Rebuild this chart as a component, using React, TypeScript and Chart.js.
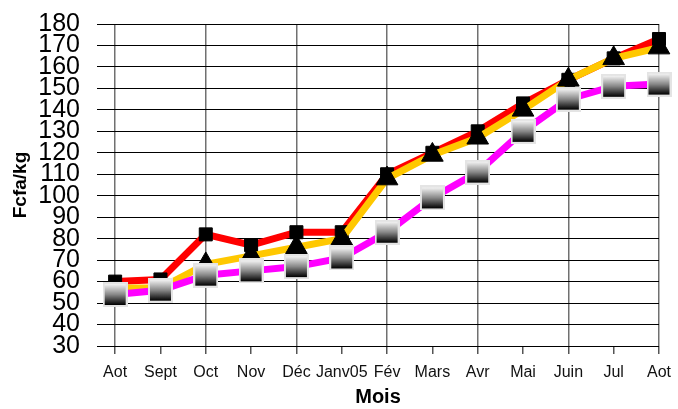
import React, { useEffect, useRef } from "react";
import { Chart, registerables } from "chart.js";

Chart.register(...registerables);

const monthLabels = ["Aot", "Sept", "Oct", "Nov", "Déc", "Janv05", "Fév", "Mars", "Avr", "Mai", "Juin", "Jul", "Aot"];
const redValues = [60, 61, 82, 77, 83, 83, 110, 120, 130, 143, 154, 164, 173];
const yellowValues = [57, 57, 68, 72, 76, 80, 108, 119, 127, 140, 154, 164, 169];
const magentaValues = [54, 56, 63, 65, 67, 71, 83, 99, 111, 130, 145, 151, 152];
const yTicks = [30, 40, 50, 60, 70, 80, 90, 100, 110, 120, 130, 140, 150, 160, 170, 180];

const FONT = "'Liberation Sans', Arial, sans-serif";

function makeGradSquare(): HTMLCanvasElement {
  const c = document.createElement("canvas");
  c.width = 25;
  c.height = 25;
  const g = c.getContext("2d")!;
  g.fillStyle = "#e4e4e4";
  g.fillRect(0, 0, 25, 25);
  const grad = g.createLinearGradient(0, 2, 0, 23);
  grad.addColorStop(0, "#f4f4f4");
  grad.addColorStop(0.5, "#888888");
  grad.addColorStop(1, "#000000");
  g.fillStyle = grad;
  g.fillRect(2, 2, 21, 21);
  return c;
}

export default function App() {
  const ref = useRef<HTMLCanvasElement>(null);
  useEffect(() => {
    const toXY = (arr: number[]) => arr.map((v, i) => ({ x: i, y: v }));
    const grad = makeGradSquare();
    const chart = new Chart(ref.current!, {
      type: "line",
      data: {
        datasets: [
          {
            data: toXY(magentaValues),
            borderColor: "#ff00ff",
            borderWidth: 7,
            pointStyle: grad as any,
            pointRadius: 12,
            tension: 0,
            clip: false as any,
          },
          {
            data: toXY(yellowValues),
            borderColor: "#ffc800",
            borderWidth: 7,
            pointStyle: "triangle",
            pointRadius: 12.5,
            pointBackgroundColor: "#000",
            pointBorderColor: "#000",
            pointBorderWidth: 1,
            tension: 0,
            clip: false as any,
          },
          {
            data: toXY(redValues),
            borderColor: "#ff0000",
            borderWidth: 7,
            pointStyle: "rect",
            pointRadius: 9.2,
            pointBackgroundColor: "#000",
            pointBorderColor: "#000",
            pointBorderWidth: 1,
            tension: 0,
            clip: false as any,
          },
        ],
      },
      options: {
        animation: false,
        responsive: false,
        devicePixelRatio: 1,
        layout: { padding: { top: 24, right: 16, left: 0, bottom: 0 } },
        plugins: { legend: { display: false }, tooltip: { enabled: false } },
        scales: {
          x: {
            type: "linear",
            min: -0.4,
            max: 12,
            border: { display: false },
            afterBuildTicks: (s: any) => {
              s.ticks = monthLabels.map((_, i) => ({ value: i }));
            },
            afterFit: (s: any) => {
              s.height = 63;
              s.paddingLeft = 0;
              s.paddingRight = 0;
            },
            grid: {
              color: (ctx: any) => (ctx.index % 2 === 0 ? "#707070" : "rgba(0,0,0,0)"),
              tickColor: "#555",
              tickLength: 8,
              lineWidth: 1.5,
              tickWidth: 1.5,
            },
            ticks: {
              autoSkip: false,
              maxRotation: 0,
              padding: 9,
              color: "#111",
              font: { family: FONT, size: 16 },
              callback: (v: any) => monthLabels[Math.round(Number(v))],
            },
            title: {
              display: true,
              text: "Mois",
              color: "#000",
              font: { family: FONT, size: 20, weight: "bold" },
              padding: { top: 0, bottom: 0 },
            },
          },
          y: {
            min: 30,
            max: 180,
            border: { display: false },
            afterBuildTicks: (s: any) => {
              s.ticks = yTicks.map((v) => ({ value: v }));
            },
            afterFit: (s: any) => {
              s.width = 97;
              s.paddingTop = 0;
              s.paddingBottom = 0;
            },
            grid: { color: "#000", drawTicks: false, lineWidth: 1 },
            ticks: {
              autoSkip: false,
              padding: 17,
              color: "#000",
              font: { family: FONT, size: 25 },
            },
            title: {
              display: true,
              text: "Fcfa/kg",
              color: "#000",
              font: { family: FONT, size: 19, weight: "bold" },
              padding: { top: 9, bottom: 0 },
            },
          },
        },
      },
    });
    return () => chart.destroy();
  }, []);
  return (
    <div style={{ position: "fixed", left: 0, top: 0, width: 678, height: 409, background: "#fff" }}>
      <canvas ref={ref} width={678} height={409} />
    </div>
  );
}
